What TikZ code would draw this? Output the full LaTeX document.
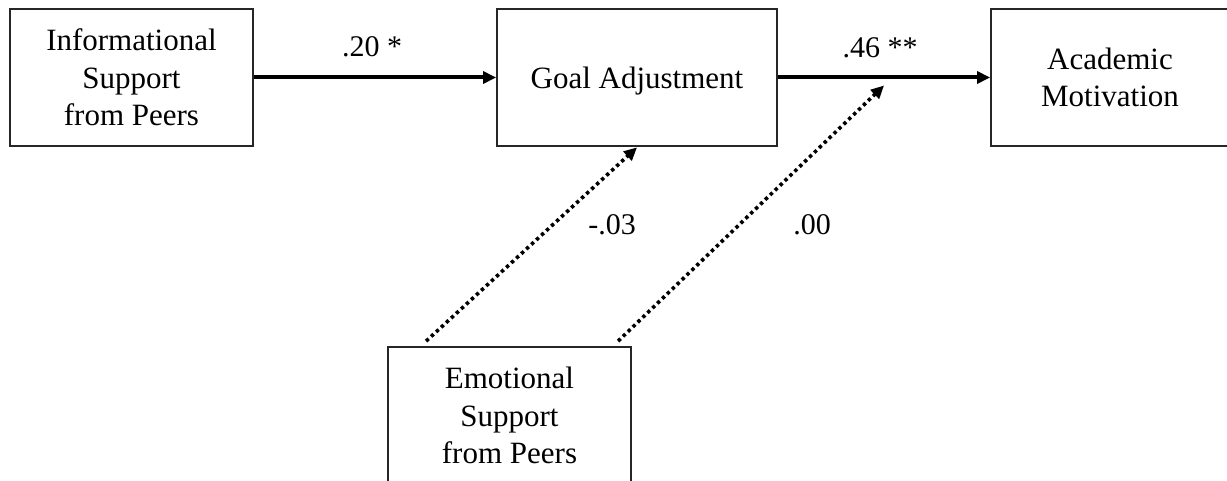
\documentclass[tikz,border=0pt]{standalone}
\usepackage{fontspec}
\setmainfont{Liberation Serif}
\usetikzlibrary{arrows.meta,calc}
\begin{document}
\begin{tikzpicture}[x=1pt,y=-1pt,
  box/.style={draw=black!85,line width=1.8pt,rectangle,minimum height=137pt,inner sep=0pt,align=center,
    font=\fontsize{31}{37.5}\selectfont},
  lbl/.style={anchor=base,inner sep=0pt,font=\fontsize{30}{36}\selectfont},
  solidarrow/.style={line width=4pt,-{Triangle[length=13pt,width=12pt]}},
  dotarrow/.style={line width=3.6pt,dash pattern=on 3.4pt off 3.4pt,-{Triangle[length=13pt,width=12pt]}}]
\useasboundingbox (0,0) rectangle (1227,481);
\fill[white] (0,0) rectangle (1227,481);
\node[box,minimum width=243pt] (info) at (131.5,77.5) {Informational\\Support\\from Peers};
\node[box,minimum width=280pt,text depth=0pt] (goal) at (637,77.5) {Goal Adjustment};
\node[box,minimum width=238pt] (acad) at (1110,77.5) {Academic\\Motivation};
\node[box,minimum width=243pt] (emo) at (509.5,415.5) {Emotional\\Support\\from Peers};
\draw[solidarrow] (info.east |- goal.west) -- (goal.west);
\draw[solidarrow] (goal.east) -- coordinate[pos=0.5] (mid) (acad.west);
\draw[dotarrow] ([xshift=39pt,yshift=5pt]emo.north west) -- ([yshift=-0.5pt]goal.south);
\draw[dotarrow] ([xshift=231pt,yshift=5pt]emo.north west) -- ([yshift=-8pt]mid);
\node[lbl] (l20) at (372,57) {.20 *};
\node[lbl] (l46) at (880,58) {.46 **};
\node[lbl] (l03) at (612,235) {-.03};
\node[lbl] (l00) at (812,235) {.00};
\end{tikzpicture}
\end{document}
